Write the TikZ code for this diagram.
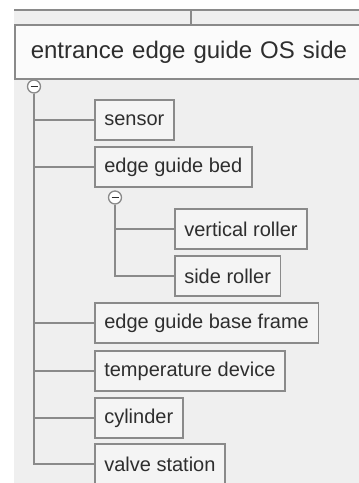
\documentclass[tikz,border=0pt]{standalone}
\usepackage{fontspec}
\setmainfont{Liberation Sans}
\usetikzlibrary{calc}
\definecolor{bg}{HTML}{EFEFEF}
\definecolor{boxfill}{HTML}{F4F4F4}
\definecolor{edge}{HTML}{8A8A8A}
\definecolor{txt}{HTML}{2E2E2E}
\tikzset{
  item/.style={draw=edge, line width=1.6pt, fill=boxfill, anchor=west,
    minimum height=40pt, inner xsep=9.5pt, inner ysep=0pt, text=txt,
    font=\fontsize{20}{24}\selectfont},
  link/.style={draw=edge, line width=1.6pt},
  toggle/.style={circle, draw=edge, line width=1.3pt, fill=white,
    minimum size=13pt, inner sep=0pt}
}
\begin{document}
\begin{tikzpicture}[x=1pt,y=-1pt]
\useasboundingbox (0,0) rectangle (359,483);
\clip (0,0) rectangle (359,483);
\fill[bg] (14,10) rectangle (365,483);
\draw[link] (14,10) -- (365,10);
\draw[link] (191,10) -- (191,24);
\node[draw=edge, line width=1.6pt, fill=white!60!boxfill, anchor=north west,
  minimum width=360pt, minimum height=54pt, text width=328pt, align=left,
  inner xsep=16pt, text=txt, font=\fontsize{24}{28}\selectfont]
  (root) at (14,24) {entrance edge guide OS side};
\node[toggle] (m1) at (34,86.5) {};
\draw[txt, line width=1.8pt] ($(m1)+(-3.5,0)$) -- ($(m1)+(3.5,0)$);
\node[item] (sensor) at (94,120) {sensor};
\node[item] (bed) at (94,167) {edge guide bed};
\node[toggle] (m2) at (115,197.5) {};
\draw[txt, line width=1.8pt] ($(m2)+(-3.5,0)$) -- ($(m2)+(3.5,0)$);
\node[item] (vr) at (174,229) {vertical roller};
\node[item] (sr) at (174,276) {side roller};
\node[item] (frame) at (94,323) {edge guide base frame};
\node[item] (temp) at (94,371) {temperature device};
\node[item] (cyl) at (94,418) {cylinder};
\node[item] (valve) at (94,464) {valve station};
\foreach \c in {sensor,bed,frame,temp,cyl,valve}
  \draw[link] (m1.south) |- (\c.west);
\foreach \c in {vr,sr}
  \draw[link] (m2.south) |- (\c.west);
\end{tikzpicture}
\end{document}
